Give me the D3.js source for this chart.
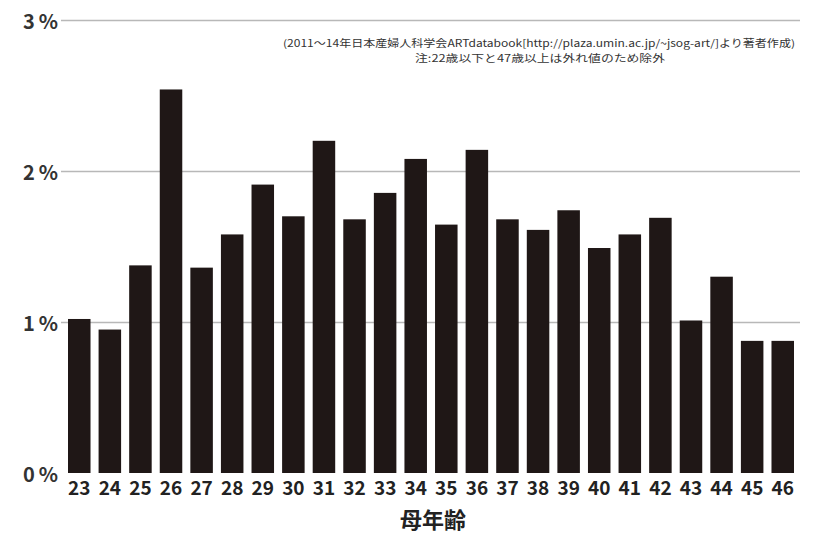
<!DOCTYPE html>
<html>
<head>
<meta charset="utf-8">
<script src="https://cdn.jsdelivr.net/npm/d3@7"></script>
<style>
  body { margin: 0; background: #fff; }
  text { font-family: "Noto Sans CJK JP", "Noto Sans", sans-serif; }
</style>
</head>
<body>
<div id="chart"></div>
<script>
// data (share of births by mother's age, %)
let ages = ['23', '24', '25', '26', '27', '28', '29', '30', '31', '32', '33', '34',
  '35', '36', '37', '38', '39', '40', '41', '42', '43', '44', '45', '46'];
let shares = [1.02, 0.95, 1.375, 2.54, 1.36, 1.58, 1.91, 1.70, 2.20, 1.68, 1.855, 2.08,
  1.645, 2.14, 1.68, 1.61, 1.74, 1.49, 1.58, 1.69, 1.01, 1.30, 0.875, 0.875];
let yTicks = [0, 1, 2, 3];
let noteLines = [
  '(2011～14年日本産婦人科学会ARTdatabook[http://plaza.umin.ac.jp/~jsog-art/]より著者作成)',
  '注:22歳以下と47歳以上は外れ値のため除外'
];
let xTitle = '母年齢';

let svgWidth = 813;
let svgHeight = 540;

let svg = d3.select('#chart')
  .append('svg')
  .attr('width', svgWidth)
  .attr('height', svgHeight);

// scales
let x = d3.scaleBand()
  .domain(ages)
  .range([68, 794])
  .paddingInner(0.264)
  .paddingOuter(0);

let y = d3.scaleLinear()
  .domain([0, 3])
  .range([473, 20]);

// gridlines
svg.append('g')
  .selectAll('line')
  .data(yTicks.filter(d => d > 0))
  .enter()
  .append('line')
  .attr('x1', 61)
  .attr('x2', 800)
  .attr('y1', d => Math.round(y(d)) + 0.5)
  .attr('y2', d => Math.round(y(d)) + 0.5)
  .attr('stroke', '#b8b8b8')
  .attr('stroke-width', 1.5);

// bars
svg.append('g')
  .selectAll('rect')
  .data(shares)
  .enter()
  .append('rect')
  .attr('x', (d, i) => x(ages[i]))
  .attr('y', d => y(d))
  .attr('width', x.bandwidth())
  .attr('height', d => y(0) - y(d))
  .attr('fill', '#1f1716');

// y axis labels
let yAxis = svg.append('g')
  .attr('transform', 'translate(58, 0)')
  .call(d3.axisLeft(y).tickValues(yTicks).tickSize(0).tickPadding(0).tickFormat(d => d + '\u2009%'));
yAxis.select('.domain').remove();
yAxis.selectAll('text')
  .attr('dy', '0.4em')
  .attr('font-size', 20)
  .attr('font-weight', 700)
  .attr('fill', '#333')
  .style('font-family', '"Noto Sans CJK JP", sans-serif');

// x axis labels
let xAxis = svg.append('g')
  .attr('transform', 'translate(0, 473)')
  .call(d3.axisBottom(x).tickSize(0).tickPadding(8));
xAxis.select('.domain').remove();
xAxis.selectAll('text')
  .attr('font-size', 19)
  .attr('font-weight', 700)
  .attr('fill', '#222')
  .style('font-family', '"Noto Sans CJK JP", sans-serif');

// x axis title
svg.append('text')
  .attr('x', 433)
  .attr('y', 520)
  .attr('dy', '0.35em')
  .attr('text-anchor', 'middle')
  .attr('font-size', 22)
  .attr('font-weight', 700)
  .attr('fill', '#222')
  .text(xTitle);

// source note
svg.append('text')
  .attr('x', 539)
  .attr('y', 47)
  .attr('text-anchor', 'middle')
  .attr('font-size', 10)
  .attr('textLength', 512)
  .attr('lengthAdjust', 'spacingAndGlyphs')
  .attr('fill', '#333')
  .text(noteLines[0]);

svg.append('text')
  .attr('x', 540)
  .attr('y', 62)
  .attr('text-anchor', 'middle')
  .attr('font-size', 10)
  .attr('textLength', 250)
  .attr('lengthAdjust', 'spacingAndGlyphs')
  .attr('fill', '#333')
  .text(noteLines[1]);
</script>
</body>
</html>
